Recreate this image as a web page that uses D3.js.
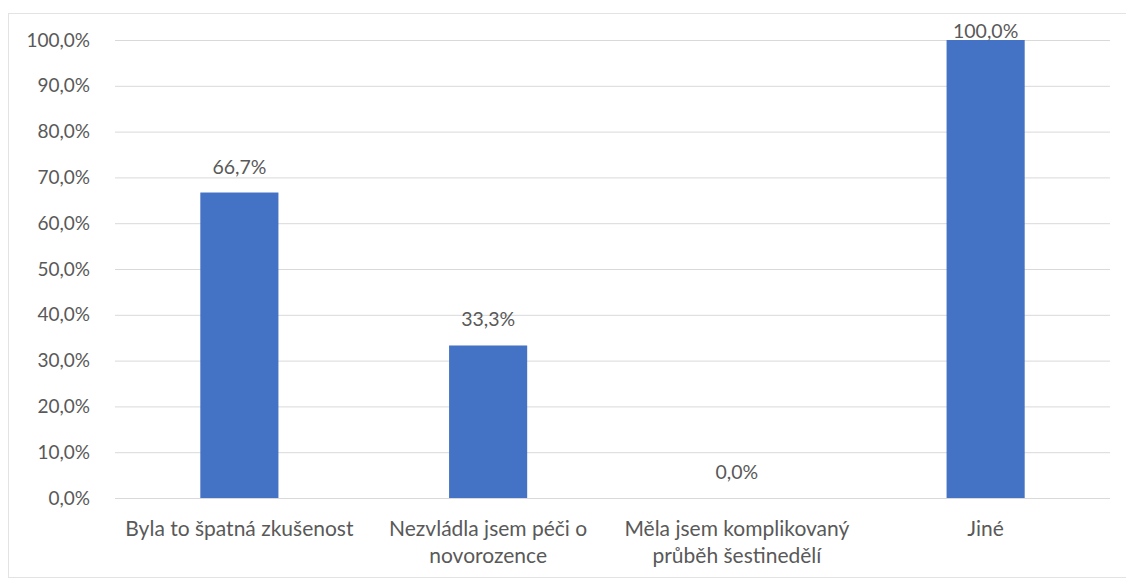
<!DOCTYPE html>
<html>
<head>
<meta charset="utf-8">
<script src="https://cdn.jsdelivr.net/npm/d3@7"></script>
<style>
  html, body { margin: 0; padding: 0; background: #fff; }
  svg text { font-family: Lato, "Open Sans", sans-serif; fill: #595959; }
</style>
</head>
<body>
<svg id="chart" width="1126" height="579"></svg>
<script>
// Reasons (categories) and their shares in percent
const categories = [
  "Byla to špatná zkušenost",
  "Nezvládla jsem péči o novorozence",
  "Měla jsem komplikovaný průběh šestinedělí",
  "Jiné"
];
const values = [66.7, 33.3, 0.0, 100.0];
// Wrapped axis labels, line by line
const categoryLines = [
  ["Byla to špatná zkušenost"],
  ["Nezvládla jsem péči o", "novorozence"],
  ["Měla jsem komplikovaný", "průběh šestinedělí"],
  ["Jiné"]
];
const yTicks = [0, 10, 20, 30, 40, 50, 60, 70, 80, 90, 100];

const fmt = v => v.toFixed(1).replace(".", ",") + "%";

const svg = d3.select("#chart");
const W = 1126, H = 579;

// chart frame
svg.append("rect")
  .attr("x", 8.5).attr("y", 13.5)
  .attr("width", W + 10).attr("height", H - 14 - 1)
  .attr("fill", "#fff").attr("stroke", "#e3e3e3").attr("stroke-width", 1);

const plot = { left: 115, right: 1110, top: 40, bottom: 498 };

const x = d3.scaleBand()
  .domain(categories)
  .range([plot.left, plot.right])
  .paddingInner(0.686)
  .paddingOuter(0.343);

const y = d3.scaleLinear().domain([0, 100]).range([plot.bottom, plot.top]);

// horizontal gridlines
const yAxis = d3.axisLeft(y)
  .tickValues(yTicks)
  .tickSize(-(plot.right - plot.left))
  .tickPadding(25)
  .tickFormat(fmt);

const gy = svg.append("g")
  .attr("transform", `translate(${plot.left},0)`)
  .call(yAxis);
gy.select(".domain").remove();
gy.selectAll(".tick line").attr("stroke", "#d9d9d9").attr("stroke-width", 1);
gy.selectAll(".tick text")
  .style("font-size", "19px")
  .attr("fill", "#595959");

// bars
svg.append("g").selectAll("rect")
  .data(values)
  .join("rect")
  .attr("x", (d, i) => x(categories[i]))
  .attr("width", x.bandwidth())
  .attr("y", d => y(d))
  .attr("height", d => plot.bottom - y(d))
  .attr("fill", "#4472c4");

// value labels above bars, kept inside the plot area
svg.append("g").selectAll("text")
  .data(values)
  .join("text")
  .attr("x", (d, i) => x(categories[i]) + x.bandwidth() / 2)
  .attr("y", d => Math.max(y(d) - 19, plot.top - 2))
  .attr("text-anchor", "middle")
  .style("font-size", "19.5px")
  .text(fmt);

// category labels
const gx = svg.append("g");
categoryLines.forEach((lines, i) => {
  const cx = x(categories[i]) + x.bandwidth() / 2;
  const t = gx.append("text")
    .attr("x", cx)
    .attr("y", 536)
    .attr("text-anchor", "middle")
    .style("font-size", "21px");
  lines.forEach((ln, j) => {
    t.append("tspan").attr("x", cx).attr("dy", j === 0 ? 0 : 26.5).text(ln);
  });
});
</script>
</body>
</html>
